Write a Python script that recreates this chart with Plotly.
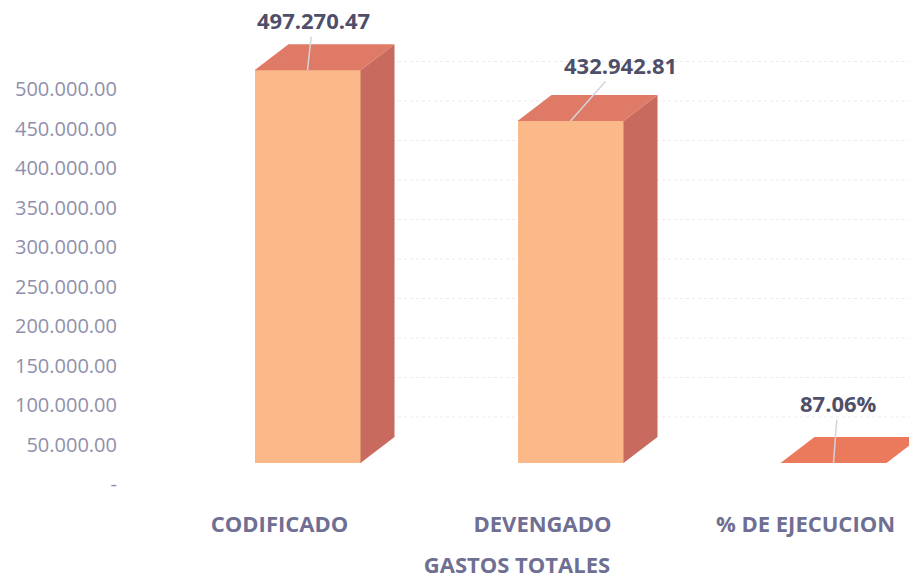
import plotly.graph_objects as go

# ---------------- data ----------------
categories = ["CODIFICADO", "DEVENGADO", "% DE EJECUCION"]
values = [497270.47, 432942.81, 0.8706]
label_kinds = ["money", "money", "percent"]
axis_ticks = [0, 50000, 100000, 150000, 200000, 250000, 300000, 350000, 400000, 450000, 500000]
grid_values = [50000, 100000, 150000, 200000, 250000, 300000, 350000, 400000, 450000, 500000]
x_title = "GASTOS TOTALES"

# ---------------- styling / layout geometry ----------------
W, H = 909, 579
ML, MR, MT, MB = 125, 0, 0, 76
plot_w = W - ML - MR
plot_h = H - MT - MB

FRONT = "#FBB98A"
SIDE = "#C86A5E"
TOP = "#DE7A65"
FLAT = "#EB7A5C"
LEADER = "#d4d4dc"

def fmt_money(v):
    return f"{v:,.2f}".replace(",", ".")

def fmt_label(v, kind):
    return f"{v*100:.2f}%" if kind == "percent" else fmt_money(v)

first_center_px = 307.5 - ML
cat_step_px = 263.0
x_range = [(0 - first_center_px) / cat_step_px, (plot_w - first_center_px) / cat_step_px]
bar_w = 106 / cat_step_px
depth_dx = 34 / cat_step_px
px_per_val = 395 / 500000.0
depth_dy = 26 / px_per_val
label_shift = 28 / cat_step_px

def yrange(zero_px):
    return [-(plot_h - zero_px) / px_per_val, zero_px / px_per_val]

fig = go.Figure()

# front faces
fig.add_trace(go.Bar(
    x=list(range(len(values))), y=values, width=bar_w,
    marker=dict(color=FRONT, line=dict(width=0)),
    hoverinfo="skip", showlegend=False,
))

# side and top faces
for i, v in enumerate(values):
    xr = i + bar_w / 2
    xl = i - bar_w / 2
    fig.add_trace(go.Scatter(
        x=[xr, xr + depth_dx, xr + depth_dx, xr, xr],
        y=[0, depth_dy, v + depth_dy, v, 0],
        fill="toself", fillcolor=SIDE, line=dict(width=0, color=SIDE), mode="lines",
        hoverinfo="skip", showlegend=False,
    ))
    fig.add_trace(go.Scatter(
        x=[xl, xl + depth_dx, xr + depth_dx, xr, xl],
        y=[v, v + depth_dy, v + depth_dy, v, v],
        fill="toself", fillcolor=TOP if v > 1 else FLAT,
        line=dict(width=0, color=TOP), mode="lines",
        hoverinfo="skip", showlegend=False,
    ))

# empty traces so the label / grid axes get their own overlay subplots
fig.add_trace(go.Scatter(x=[None], y=[None], yaxis="y2", mode="markers",
                         hoverinfo="skip", showlegend=False))
fig.add_trace(go.Scatter(x=[None], y=[None], yaxis="y3", mode="markers",
                         hoverinfo="skip", showlegend=False))

# data labels with leader lines
offsets = [(5.5, -50), (49.5, -56), (4.5, -60)]
for i, (v, kind) in enumerate(zip(values, label_kinds)):
    ax, ay = offsets[i]
    fig.add_annotation(
        x=i, y=v, xref="x", yref="y", ax=ax, ay=ay,
        text=f"<b>{fmt_label(v, kind)}</b>", showarrow=True, arrowhead=0,
        arrowwidth=1.5, arrowcolor=LEADER,
        font=dict(family="Open Sans", size=22, color="#4f4f69"),
    )

# faint back-wall gridlines
for g in grid_values:
    fig.add_shape(type="line", xref="paper", yref="y3", x0=(290 - ML) / plot_w, x1=1,
                  y0=g, y1=g, layer="below",
                  line=dict(color="#ebebee", width=1, dash="dot"))

fig.update_layout(
    width=W, height=H,
    margin=dict(l=ML, r=MR, t=MT, b=MB),
    paper_bgcolor="white", plot_bgcolor="white",
    showlegend=False, bargap=0,
    xaxis=dict(
        range=x_range, showgrid=False, zeroline=False, showline=False,
        tickmode="array",
        tickvals=[i - label_shift for i in range(len(categories))],
        ticktext=[f"<b>{c}</b>" for c in categories],
        tickfont=dict(family="Open Sans", size=22, color="#6f6f93"),
        ticks="outside", ticklen=2, tickcolor="rgba(0,0,0,0)",
        title=dict(text=f"<b>{x_title}</b>", standoff=25,
                   font=dict(family="Open Sans", size=22, color="#6f6f93")),
    ),
    yaxis=dict(range=yrange(463 - MT), visible=False, fixedrange=True),
    yaxis2=dict(
        range=yrange(484 - MT), overlaying="y", side="left", anchor="x",
        showgrid=False, zeroline=False, showline=False,
        tickmode="array", tickvals=axis_ticks,
        ticktext=["-" if t == 0 else fmt_money(t) for t in axis_ticks],
        tickfont=dict(family="Open Sans", size=20, color="#9090ac"),
        ticks="outside", ticklen=3, tickcolor="rgba(0,0,0,0)",
    ),
    yaxis3=dict(range=yrange(456.5 - MT), overlaying="y", visible=False),
)

fig.write_html("out.html", config={"displayModeBar": False},
               post_script="document.body.style.margin='0px';")
